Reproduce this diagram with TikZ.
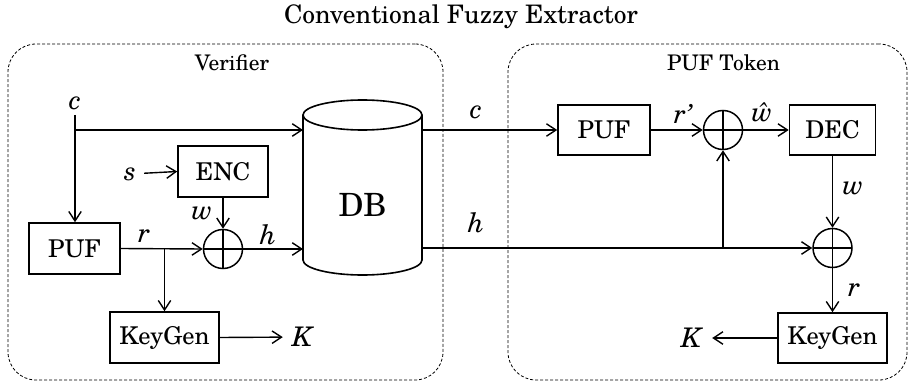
\documentclass[tikz,border=0pt]{standalone}
\usepackage{fontspec}
\setmainfont{texgyreschola}[Extension=.otf,UprightFont=*-regular,ItalicFont=*-italic,BoldFont=*-bold,BoldItalicFont=*-bolditalic]
\usetikzlibrary{arrows.meta}
\begin{document}
\begin{tikzpicture}[x=1pt,y=-1pt,
  box/.style={draw,line width=1.6pt,inner sep=0pt,font=\fontsize{24.5}{28}\selectfont},
  arr/.style={-{Straight Barb[length=9.5pt,width=12.5pt,line width=1.4pt]},line width=1.4pt},
  ln/.style={line width=1.4pt},
  lab/.style={font=\fontsize{27}{30}\selectfont\itshape,inner sep=0pt},
  xor/.style={circle,draw,line width=1.5pt,minimum size=39pt,inner sep=0pt,
    path picture={\draw[line width=1.5pt] (path picture bounding box.north) -- (path picture bounding box.south)
      (path picture bounding box.west) -- (path picture bounding box.east);}},
  region/.style={draw,dash pattern=on 3pt off 2pt,line width=0.8pt,rounded corners=28pt,inner sep=0pt},
  reglab/.style={font=\fontsize{21.5}{24}\selectfont,inner sep=0pt}]
\useasboundingbox (0,0) rectangle (909,385);
% title
\node[font=\fontsize{25.5}{30}\selectfont,inner sep=0pt] (title) at (461,17) {Conventional Fuzzy Extractor};
% regions
\node[region,minimum width=435pt,minimum height=336pt] (verifier) at (225.5,212) {};
\node[region,minimum width=399pt,minimum height=336pt] (token) at (707.5,212) {};
\node[reglab] (vlab) at (232,63) {Verifier};
\node[reglab] (tlab) at (723.5,63) {PUF Token};
% verifier blocks
\node[box,minimum width=91pt,minimum height=51pt] (puf1) at (74.5,248.5) {PUF};
\node[box,minimum width=90pt,minimum height=51pt] (enc) at (223,171.5) {ENC};
\node[box,minimum width=109pt,minimum height=51pt] (kg1) at (164.5,337.5) {KeyGen};
\node[xor] (x1) at (223,249) {};
% DB cylinder
\draw[line width=1.6pt] (303,115) -- (303,260) arc[start angle=180,end angle=0,x radius=59.5,y radius=15] -- (422,115);
\draw[line width=1.6pt] (362.5,115) ellipse[x radius=59.5,y radius=15];
\node[font=\fontsize{32}{36}\selectfont,inner sep=0pt] (db) at (362.5,205) {DB};
\coordinate (dbL1) at (303,130);
\coordinate (dbL2) at (303,249);
\coordinate (dbR1) at (422,130);
\coordinate (dbR2) at (422,248);
% token blocks
\node[box,minimum width=92pt,minimum height=50pt] (puf2) at (604,130) {PUF};
\node[box,minimum width=86pt,minimum height=50pt] (dec) at (832.5,130) {DEC};
\node[box,minimum width=109pt,minimum height=50pt] (kg2) at (832.5,338) {KeyGen};
\node[xor] (x2) at (723,130) {};
\node[xor] (x3) at (832.5,248) {};
% labels
\node[lab] (cl) at (75,103) {c};
\node[lab] (s) at (130,174) {s};
\node[lab] (wl) at (202,213) {w};
\node[lab] (rl) at (144,236) {r};
\node[lab] (hl) at (268,235) {h};
\node[lab] (K1) at (302,337) {K};
\node[lab] (cr) at (476,112) {c};
\node[lab] (rp) at (683,114) {r’};
\node[lab] (wh) at (762,112) {\^{w}};
\node[lab] (wr) at (853,188) {w};
\node[lab] (hr) at (476,223) {h};
\node[lab] (rr) at (854,290) {r};
\node[lab] (K2) at (691,338) {K};
% connectors verifier
\coordinate (cTop) at (75,115);
\coordinate (cJ) at (75,130);
\draw[arr] (cTop) -- (cTop |- puf1.north);
\draw[arr] (cJ) -- (dbL1);
\draw[arr,shorten <=8pt] (s) -- (enc.west);
\draw[arr] (enc.south) -- (x1.north);
\draw[arr] (puf1.east) -- (x1.west);
\coordinate (rb) at (164.5,249);
\draw[arr] (rb) -- (kg1.north);
\draw[arr,shorten >=9pt] (kg1.east) -- (K1);
\draw[arr] (x1.east) -- (dbL2);
% connectors token
\draw[arr] (dbR1) -- (puf2.west);
\draw[arr] (puf2.east) -- (x2.west);
\draw[arr] (x2.east) -- (dec.west);
\draw[arr] (dec.south) -- (x3.north);
\draw[arr] (dbR2) -- (x3.west);
\coordinate (hb) at (723,248);
\draw[arr] (hb) -- (x2.south);
\draw[arr] (x3.south) -- (kg2.north);
\draw[arr,shorten >=11pt] (kg2.west) -- (K2);
\end{tikzpicture}
\end{document}
